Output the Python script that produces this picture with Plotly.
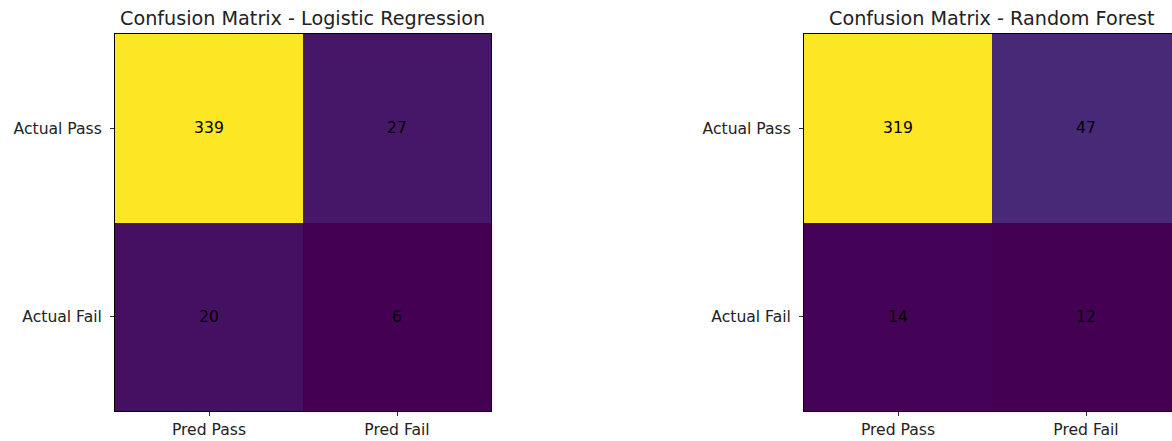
import plotly.graph_objects as go

pred_labels = ["Pred Pass", "Pred Fail"]
actual_labels = ["Actual Pass", "Actual Fail"]
cm_logistic = [[339, 27], [20, 6]]
cm_forest = [[319, 47], [14, 12]]
titles = ["Confusion Matrix - Logistic Regression", "Confusion Matrix - Random Forest"]

W, H = 1172, 441
FONT = "DejaVu Sans"
TICK_SIZE = 15.6
TITLE_SIZE = 19.2

fig = go.Figure()

def px_x(p):
    return p / W

def px_y(p):
    return 1 - p / H

panels = [
    dict(cm=cm_logistic, title=titles[0], x0=115, x1=491, xr=[-0.5, 1.5], suffix=""),
    dict(cm=cm_forest, title=titles[1], x0=804, x1=1172, xr=[-0.5, -0.5 + (1172 - 804) / 188.0], suffix="2"),
]

top, bottom = 34, 411
for i, p in enumerate(panels):
    cm = p["cm"]
    flat = [v for row in cm for v in row]
    fig.add_trace(go.Heatmap(
        z=cm, x=[0, 1], y=[0, 1],
        colorscale="Viridis", zmin=min(flat), zmax=max(flat),
        showscale=False,
        text=[[str(v) for v in row] for row in cm],
        texttemplate="%{text}",
        textfont=dict(family=FONT, size=TICK_SIZE, color="black"),
        xaxis="x" + p["suffix"], yaxis="y" + p["suffix"],
        hoverinfo="skip",
    ))
    xa = dict(
        domain=[px_x(p["x0"]), px_x(p["x1"])],
        range=p["xr"], tickvals=[0, 1], ticktext=pred_labels,
        ticks="outside", ticklen=4, tickcolor="#333", tickwidth=1,
        ticklabelstandoff=0,
        showline=True, linecolor="black", linewidth=1, mirror=True,
        showgrid=False, zeroline=False, fixedrange=True,
        tickfont=dict(family=FONT, size=TICK_SIZE, color="#222"),
        anchor="y" + p["suffix"],
    )
    ya = dict(
        domain=[px_y(bottom), px_y(top)],
        range=[1.5, -0.5], tickvals=[0, 1], ticktext=actual_labels,
        ticks="outside", ticklen=4, tickcolor="#333", tickwidth=1,
        ticklabelstandoff=5,
        showline=True, linecolor="black", linewidth=1,
        mirror=(i == 0),
        showgrid=False, zeroline=False, fixedrange=True,
        tickfont=dict(family=FONT, size=TICK_SIZE, color="#222"),
        anchor="x" + p["suffix"],
    )
    fig.layout["xaxis" + p["suffix"]] = xa
    fig.layout["yaxis" + p["suffix"]] = ya

fig.add_annotation(x=px_x(302), y=px_y(18), xref="paper", yref="paper",
                   xanchor="center", yanchor="middle",
                   text=titles[0], showarrow=False,
                   font=dict(family=FONT, size=TITLE_SIZE, color="#222"))
fig.add_annotation(x=px_x(992), y=px_y(18), xref="paper", yref="paper",
                   xanchor="center", yanchor="middle",
                   text=titles[1], showarrow=False,
                   font=dict(family=FONT, size=TITLE_SIZE, color="#222"))

fig.update_layout(
    width=W, height=H,
    margin=dict(l=0, r=0, t=0, b=0),
    paper_bgcolor="white", plot_bgcolor="white",
    showlegend=False,
)

fig.write_html("out.html", config={"displayModeBar": False})
